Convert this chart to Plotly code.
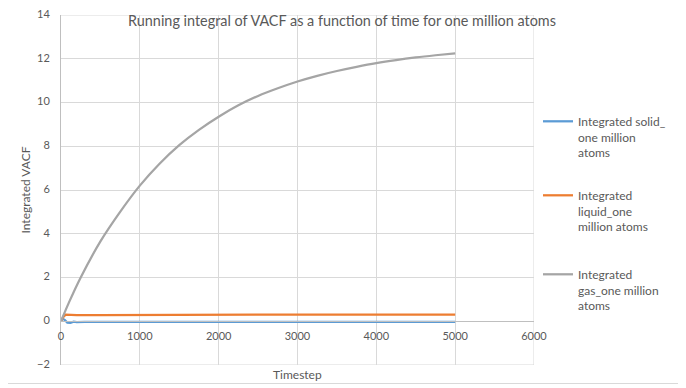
import plotly.graph_objects as go

# ---- data ----
gas_t = [0, 100, 250, 500, 750, 1000, 1250, 1500, 1750, 2000, 2250, 2500, 2750,
         3000, 3250, 3500, 3750, 4000, 4250, 4500, 4750, 5000]
gas_v = [0.0, 0.85, 2.0, 3.65, 5.0, 6.2, 7.2, 8.05, 8.75, 9.35, 9.87, 10.3, 10.65,
         10.96, 11.22, 11.44, 11.63, 11.8, 11.94, 12.06, 12.16, 12.25]

liquid_t = [0, 30, 60, 100, 200, 500, 1000, 1700, 2500, 3500, 5000]
liquid_v = [0.0, 0.2, 0.3, 0.29, 0.28, 0.28, 0.29, 0.3, 0.3, 0.3, 0.3]

solid_t = [0, 20, 50, 80, 120, 160, 200, 300, 1000, 2500, 5000]
solid_v = [0.0, 0.12, 0.05, -0.06, -0.07, -0.02, -0.04, -0.03, -0.03, -0.03, -0.03]

names = ["Integrated solid_<br>one million<br>atoms",
         "Integrated<br>liquid_one<br>million atoms",
         "Integrated<br>gas_one million<br>atoms"]
colors = ["#5b9bd5", "#ed7d31", "#a5a5a5"]

x_ticks = [0, 1000, 2000, 3000, 4000, 5000, 6000]
y_ticks = [-2, 0, 2, 4, 6, 8, 10, 12, 14]

FONT = "Lato"
GREY = "#595959"
GRID = "#d9d9d9"

fig = go.Figure()
fig.add_trace(go.Scatter(x=solid_t, y=solid_v, mode="lines", name=names[0],
                         line=dict(color=colors[0], width=2.25), legend="legend",
                         showlegend=True))
fig.add_trace(go.Scatter(x=liquid_t, y=liquid_v, mode="lines", name=names[1],
                         line=dict(color=colors[1], width=2.25), legend="legend2",
                         showlegend=True))
fig.add_trace(go.Scatter(x=gas_t, y=gas_v, mode="lines", name=names[2],
                         line=dict(color=colors[2], width=2.25, shape="spline"),
                         legend="legend3", showlegend=True))

# The page body has an 8px margin, so the figure is drawn 8px in from the window.
OFF = 8
FW, FH = 686 - OFF, 388 - OFF
L, R, T, B = 61 - OFF, 152, 15 - OFF, 23
H = FH - T - B
W = FW - L - R


def py(p):  # window pixel -> paper fraction
    return (FH - B - (p - OFF)) / H


def px(p):
    return (p - OFF - L) / W


leg_common = dict(font=dict(family=FONT, size=12, color=GREY), bgcolor="rgba(0,0,0,0)",
                  xanchor="left", yanchor="top", valign="top", borderwidth=0)

xmin, xmax = x_ticks[0], x_ticks[-1]
ymin, ymax = y_ticks[0], y_ticks[-1]
y0_pos = (0 - ymin) / (ymax - ymin)

fig.update_layout(
    width=FW, height=FH,
    showlegend=True,
    margin=dict(l=L, r=R, t=T, b=B, autoexpand=False),
    paper_bgcolor="white", plot_bgcolor="white",
    font=dict(family=FONT, size=12, color=GREY),
    title=dict(text="Running integral of VACF as a function of time for one million atoms",
               x=(342 - OFF) / FW, xanchor="center", y=1 - (21 - OFF) / FH, yanchor="middle",
               font=dict(family=FONT, size=14.4, color=GREY), automargin=False),
    xaxis=dict(range=[xmin, xmax], tickvals=x_ticks, showgrid=True, gridcolor=GRID,
               gridwidth=1, zeroline=False, anchor="free", position=y0_pos,
               showline=True, linecolor="#bfbfbf", ticks="", automargin=False,
               ticklabelstandoff=5, ticklabeloverflow="allow",
               tickfont=dict(family=FONT, size=11, color=GREY)),
    yaxis=dict(range=[ymin, ymax], tickvals=y_ticks, showgrid=True, gridcolor=GRID,
               gridwidth=1, zeroline=False, showline=True, linecolor="#bfbfbf",
               ticks="", automargin=False, ticklabelstandoff=8, ticklabeloverflow="allow",
               ticklabelshift=-1,
               tickfont=dict(family=FONT, size=11, color=GREY),
               title=dict(text="Integrated VACF", font=dict(family=FONT, size=12, color=GREY),
                          standoff=3)),
    legend=dict(x=px(538), y=py(107), **leg_common),
    legend2=dict(x=px(538), y=py(181), **leg_common),
    legend3=dict(x=px(538), y=py(260), **leg_common),
    annotations=[dict(text="Timestep", x=0.5, xref="paper", y=py(374), yref="paper",
                      xanchor="center", yanchor="middle", showarrow=False,
                      font=dict(family=FONT, size=12, color=GREY))],
    shapes=[
        # gridlines on the plot-area edges (Plotly skips those at the range ends)
        dict(type="line", xref="x", yref="y", x0=xmin, x1=xmax, y0=ymax, y1=ymax,
             line=dict(color=GRID, width=1), layer="below"),
        dict(type="line", xref="x", yref="y", x0=xmin, x1=xmax, y0=ymin, y1=ymin,
             line=dict(color=GRID, width=1), layer="below"),
        dict(type="line", xref="x", yref="y", x0=xmax, x1=xmax, y0=ymin, y1=ymax,
             line=dict(color=GRID, width=1), layer="below"),
        # chart border (right and bottom; top/left fall inside the page margin)
        dict(type="line", xref="paper", yref="paper", x0=px(684.5), x1=px(684.5),
             y0=py(383.5), y1=py(8), line=dict(color=GRID, width=1), layer="below"),
        dict(type="line", xref="paper", yref="paper", x0=px(8), x1=px(684.5),
             y0=py(383.5), y1=py(383.5), line=dict(color=GRID, width=1), layer="below"),
    ],
)

fig.write_html("out.html")
